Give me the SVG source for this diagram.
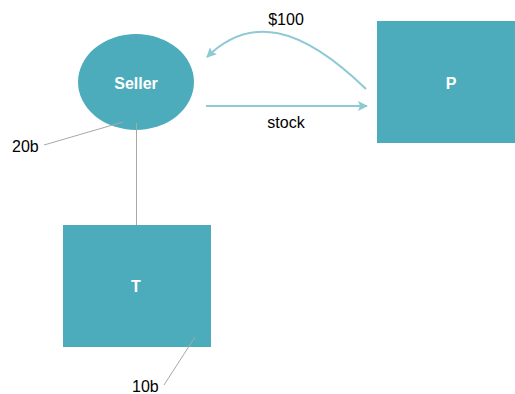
<svg xmlns="http://www.w3.org/2000/svg" width="515" height="394" viewBox="0 0 515 394">
  <style>
    .node { fill: #4cacbc; }
    .label { font-family: "Liberation Sans", Arial, sans-serif; font-size: 16px; fill: #000; }
    .nlabel { font-family: "Liberation Sans", Arial, sans-serif; font-size: 16px; font-weight: bold; fill: #fff; text-anchor: middle; }
    .flow { fill: none; stroke: #8ecad4; stroke-width: 2; }
    .lead { fill: none; stroke: #a8a8a8; stroke-width: 1; }
  </style>
  <defs>
    <!-- slightly notched arrowhead for the money/stock flows -->
    <marker id="head" viewBox="0 0 10 10" refX="9" refY="5" markerWidth="5" markerHeight="5" orient="auto" markerUnits="strokeWidth">
      <path d="M0,0 L10,5 L0,10 L2,5 z" fill="#8ecad4"/>
    </marker>
  </defs>
  <rect width="515" height="394" fill="#fff"/>

  <g id="seller">
    <ellipse class="node" cx="136" cy="82" rx="58" ry="48"/>
    <text class="nlabel" x="136" y="89">Seller</text>
  </g>
  <g id="p">
    <rect class="node" x="377" y="21" width="138" height="122"/>
    <text class="nlabel" x="451" y="89">P</text>
  </g>
  <g id="t">
    <rect class="node" x="63" y="225" width="148" height="122"/>
    <text class="nlabel" x="136" y="292">T</text>
  </g>

  <g id="connectors">
    <line class="lead" x1="136.5" y1="123" x2="136.5" y2="225"/>
    <line class="lead" x1="44" y1="145" x2="123" y2="122"/>
    <line class="lead" x1="164" y1="385" x2="195" y2="337"/>
    <line class="flow" x1="206" y1="106" x2="367" y2="106" marker-end="url(#head)"/>
    <path class="flow" d="M366,89 C300,25 250,15 207,57" marker-end="url(#head)"/>
  </g>

  <text class="label" x="286" y="25" text-anchor="middle">$100</text>
  <text class="label" x="286" y="128" text-anchor="middle">stock</text>
  <text class="label" x="12" y="152">20b</text>
  <text class="label" x="132" y="392">10b</text>
</svg>
